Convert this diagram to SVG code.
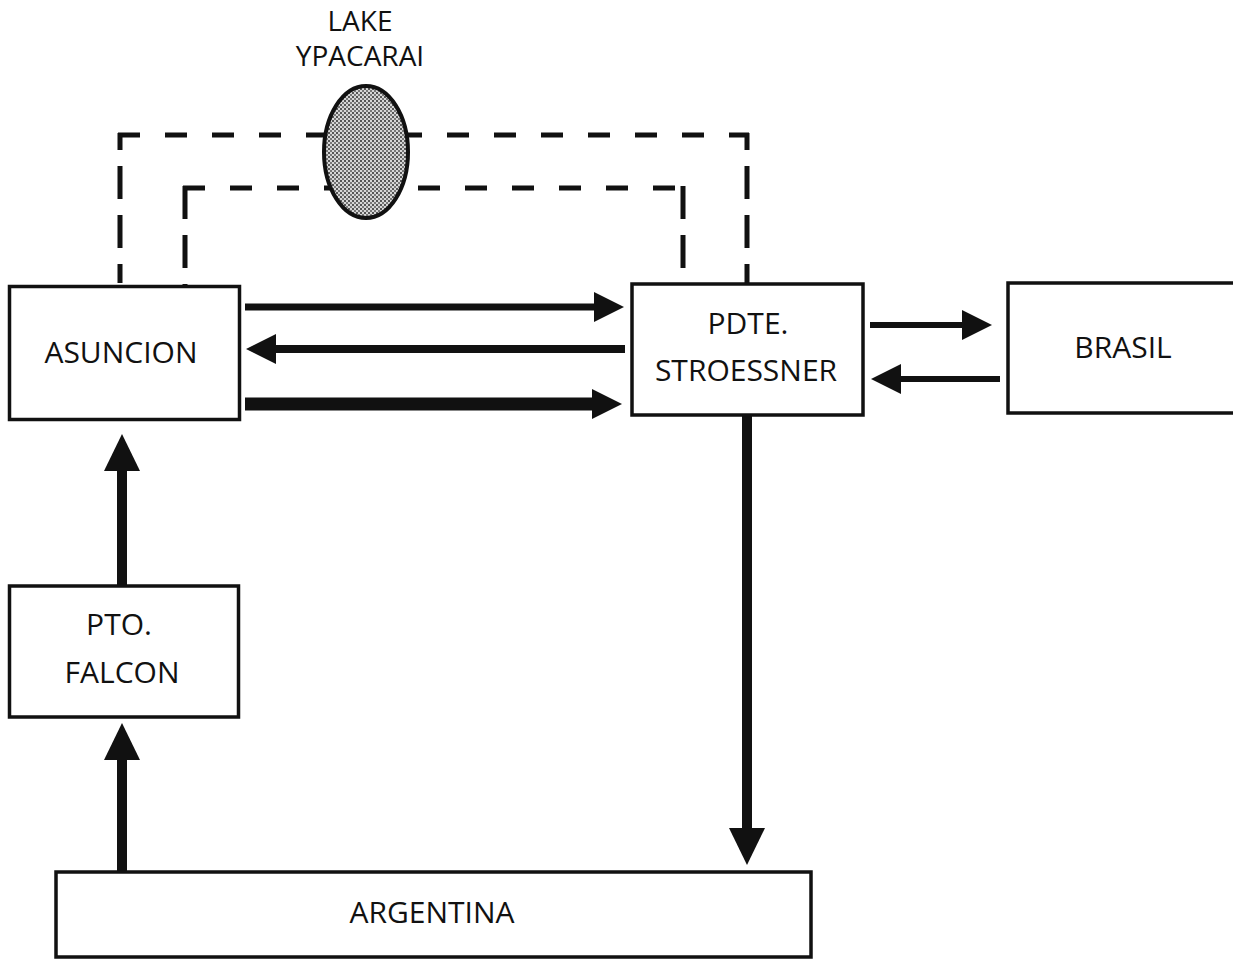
<svg xmlns="http://www.w3.org/2000/svg" width="1233" height="965" viewBox="0 0 1233 965">
<style>
.box{fill:#fff;stroke:#111;stroke-width:3.5}
.lbl{font-family:"Open Sans","Liberation Sans",sans-serif;font-size:30px;fill:#111;text-anchor:middle}
.lake{font-size:28px}
.dash{fill:none;stroke:#111;stroke-width:5}
.arr{fill:none;stroke:#111}
</style>
<defs>
<pattern id="dots" width="4" height="4" patternUnits="userSpaceOnUse">
<rect width="4" height="4" fill="#d6d6d6"/>
<rect x="0" y="0" width="2" height="2" fill="#555"/>
<rect x="2" y="2" width="2" height="2" fill="#777"/>
</pattern>
<marker id="h" markerUnits="userSpaceOnUse" markerWidth="32" markerHeight="34" viewBox="0 -17 32 34" refX="1" refY="0" orient="auto">
<path d="M0,-15 L30,0 L0,15 z" fill="#111"/>
</marker>
<marker id="hL" markerUnits="userSpaceOnUse" markerWidth="40" markerHeight="40" viewBox="0 -20 40 40" refX="1" refY="0" orient="auto">
<path d="M0,-18 L37,0 L0,18 z" fill="#111"/>
</marker>
</defs>
<rect width="1233" height="965" fill="#fff"/>

<g id="lake">
<text class="lbl lake" x="360" y="31">LAKE</text>
<text class="lbl lake" x="360" y="66">YPACARAI</text>
</g>

<g id="connectors">
<path class="dash" d="M118,135 H749" stroke-dasharray="22 25"/>
<path class="dash" d="M120,133 V283" stroke-dasharray="33 16" stroke-dashoffset="16"/>
<path class="dash" d="M747,133 V283" stroke-dasharray="33 16" stroke-dashoffset="16"/>
<path class="dash" d="M183,188 H685" stroke-dasharray="22 25"/>
<path class="dash" d="M185,186 V285" stroke-dasharray="33 16" stroke-dashoffset="0"/>
<path class="dash" d="M683,186 V283" stroke-dasharray="33 16" stroke-dashoffset="0"/>
<line class="arr" x1="245" y1="307" x2="595" y2="307" stroke-width="7" marker-end="url(#h)"/>
<line class="arr" x1="625" y1="349" x2="275" y2="349" stroke-width="8" marker-end="url(#h)"/>
<line class="arr" x1="245" y1="404" x2="593" y2="404" stroke-width="13" marker-end="url(#h)"/>
<line class="arr" x1="870" y1="325" x2="963" y2="325" stroke-width="6" marker-end="url(#h)"/>
<line class="arr" x1="1000" y1="379" x2="900" y2="379" stroke-width="6" marker-end="url(#h)"/>
<line class="arr" x1="122" y1="587" x2="122" y2="470" stroke-width="10" marker-end="url(#hL)"/>
<line class="arr" x1="122" y1="872" x2="122" y2="759" stroke-width="10" marker-end="url(#hL)"/>
<line class="arr" x1="747" y1="416" x2="747" y2="829" stroke-width="10" marker-end="url(#hL)"/>
</g>

<g id="lake-ellipse">
<ellipse cx="366" cy="152" rx="42" ry="66" fill="url(#dots)" stroke="#111" stroke-width="4"/>
</g>

<g id="asuncion">
<rect class="box" x="9.5" y="286.5" width="230" height="133"/>
<text class="lbl" x="121" y="363">ASUNCION</text>
</g>

<g id="stroessner">
<rect class="box" x="632" y="284" width="231" height="131"/>
<text class="lbl" x="748" y="334">PDTE.</text>
<text class="lbl" x="746" y="381">STROESSNER</text>
</g>

<g id="brasil">
<rect class="box" x="1008" y="283" width="240" height="130"/>
<text class="lbl" x="1123" y="358">BRASIL</text>
</g>

<g id="falcon">
<rect class="box" x="9.5" y="586" width="229" height="131"/>
<text class="lbl" x="119" y="635">PTO.</text>
<text class="lbl" x="122" y="683">FALCON</text>
</g>

<g id="argentina">
<rect class="box" x="56" y="872" width="755" height="85"/>
<text class="lbl" x="432" y="923">ARGENTINA</text>
</g>
</svg>
